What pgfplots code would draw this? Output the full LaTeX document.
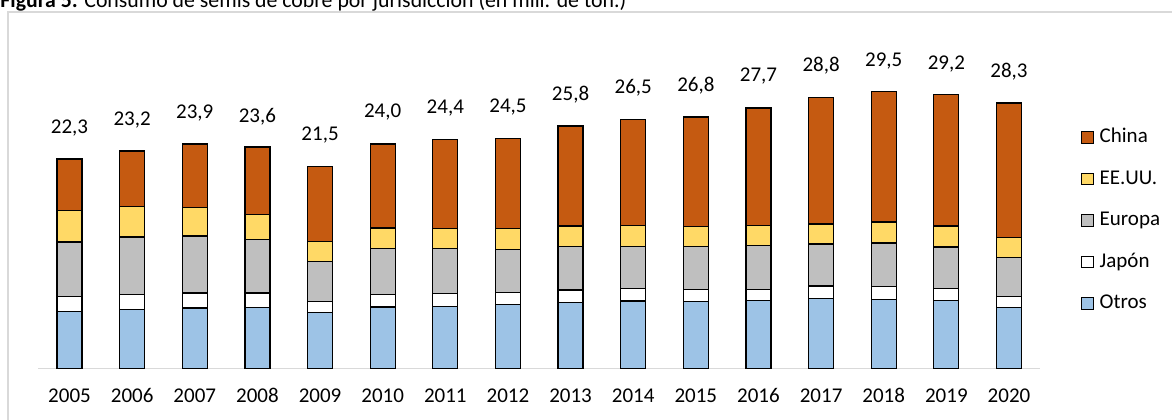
\documentclass[border=0pt]{standalone}
\usepackage{pgfplots}
\pgfplotsset{compat=1.18}
\usepackage{pgfplotstable}
\usepackage{fontspec}
\setmainfont{Carlito}
\definecolor{cChina}{HTML}{C55A11}
\definecolor{cEEUU}{HTML}{FFD966}
\definecolor{cEuropa}{HTML}{BFBFBF}
\definecolor{cJapon}{HTML}{FFFFFF}
\definecolor{cOtros}{HTML}{9DC3E6}
\definecolor{cFrame}{HTML}{D9D9D9}

% values in millions of tonnes; LabelY = where the total label sits
\pgfplotstableread{
X  Otros Japon Europa EEUU China Label LabelY
0  6.08  1.60  5.78   3.37 5.46  22,3  25.60
1  6.26  1.64  6.10   3.27 5.88  23,2  26.47
2  6.44  1.60  6.06   3.05 6.74  23,9  27.19
3  6.47  1.57  5.67   2.66 7.20  23,6  26.80
4  5.98  1.13  4.26   2.10 8.01  21,5  24.85
5  6.54  1.35  4.89   2.16 8.94  24,0  27.33
6  6.57  1.38  4.82   2.16 9.43  24,4  27.72
7  6.79  1.28  4.61   2.20 9.57  24,5  27.79
8  7.04  1.31  4.61   2.20 10.64 25,8  29.14
9  7.18  1.35  4.43   2.27 11.28 26,5  29.85
10 7.11  1.28  4.57   2.16 11.63 26,8  30.10
11 7.21  1.21  4.64   2.13 12.52 27,7  31.10
12 7.43  1.35  4.47   2.13 13.44 28,8  32.22
13 7.36  1.35  4.65   2.23 13.90 29,5  32.76
14 7.26  1.28  4.39   2.23 14.01 29,2  32.42
15 6.51  1.13  4.15   2.17 14.29 28,3  31.62
}\data

\pgfplotsset{
  sq/.style={legend image code/.code={\draw[##1, line width=0.6pt] (0pt,-2.9pt) rectangle (5.8pt,2.9pt);}},
  geom/.style={at={(19.1pt,25.25pt)}, anchor=south west,
    scale only axis, width=501.05pt, height=164.5pt,
    xmin=-0.5, xmax=15.5, ymin=0, ymax=35},
}

\begin{document}
\fontsize{10.5pt}{12.6pt}\selectfont
\begin{tikzpicture}[font=\fontsize{10.5pt}{12.6pt}\selectfont]
\useasboundingbox (0,0) rectangle (586pt,209.5pt);
\draw[cFrame, line width=0.6pt] (4pt,203.5pt) rectangle (600pt,-10pt);
\node[anchor=base west, inner sep=0pt, font=\fontsize{10.9pt}{13pt}\selectfont] at (0pt,205.6pt) {\textbf{Figura 5:} Consumo de semis de cobre por jurisdicción (en mill. de ton.)};
\begin{axis}[
  geom,
  ybar stacked, bar width=12.5pt,
  axis x line*=bottom, axis y line=none,
  x axis line style={draw=cFrame, line width=0.75pt},
  xtick={0,...,15},
  xticklabels={2005,2006,2007,2008,2009,2010,2011,2012,2013,2014,2015,2016,2017,2018,2019,2020},
  major tick length=0pt,
  ytick=\empty,
  xticklabel style={anchor=base, yshift=-17.1pt, text=black},
  reverse legend,
  legend style={at={(1,0.45)}, anchor=west, xshift=20.1pt, draw=none, fill=none,
    inner sep=0pt, row sep=11.55pt, column sep=3pt,
    nodes={inner sep=0pt, text height=7.2pt, text depth=2pt}},
  legend cell align=left,
  clip=false,
]
\addplot[fill=cOtros, draw=black, line width=0.6pt, sq] table[x=X, y=Otros] {\data};
\addlegendentry{Otros}
\addplot[fill=cJapon, draw=black, line width=0.6pt, sq] table[x=X, y=Japon] {\data};
\addlegendentry{Japón}
\addplot[fill=cEuropa, draw=black, line width=0.6pt, sq] table[x=X, y=Europa] {\data};
\addlegendentry{Europa}
\addplot[fill=cEEUU, draw=black, line width=0.6pt, sq] table[x=X, y=EEUU] {\data};
\addlegendentry{EE.UU.}
\addplot[fill=cChina, draw=black, line width=0.6pt, sq] table[x=X, y=China] {\data};
\addlegendentry{China}
\end{axis}
\begin{axis}[geom, hide axis, clip=false]
\addplot[draw=none, mark=none,
  nodes near coords, point meta=explicit symbolic,
  nodes near coords style={anchor=center, text=black}]
  table[x=X, y=LabelY, meta=Label] {\data};
\end{axis}
\end{tikzpicture}
\end{document}
